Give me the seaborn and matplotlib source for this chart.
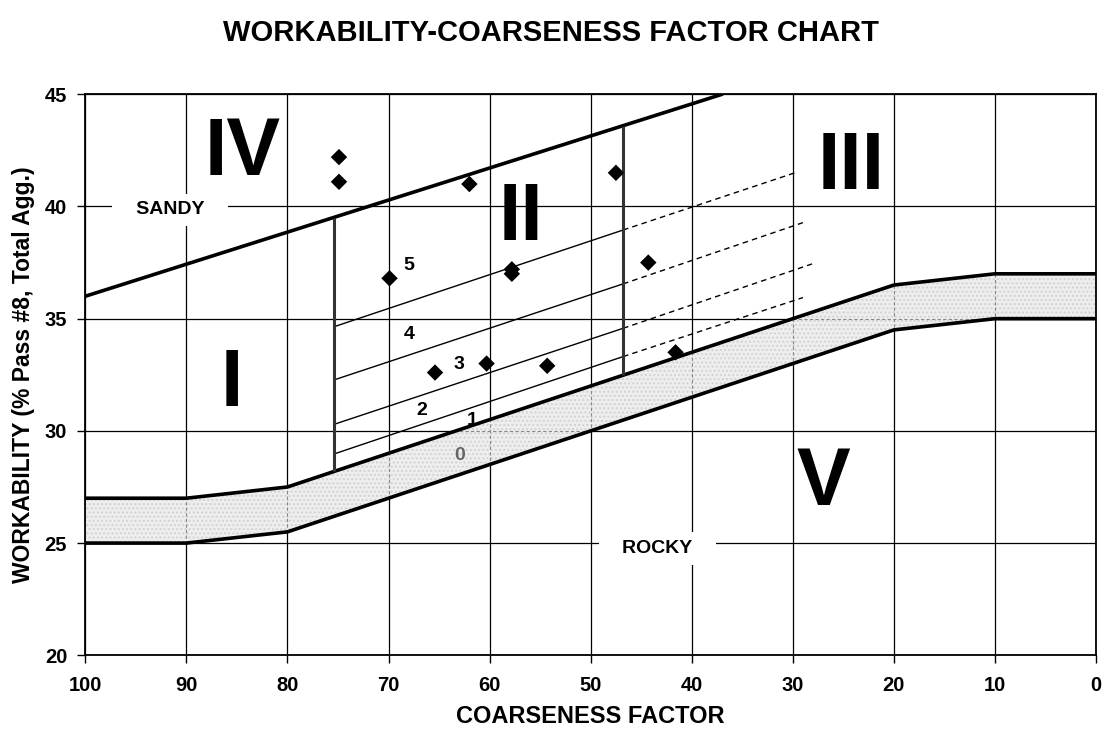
import matplotlib
matplotlib.use("Agg")
import matplotlib.pyplot as plt
import seaborn as sns
import numpy as np
import pandas as pd

# ---------------- data ----------------
title = "WORKABILITY-COARSENESS FACTOR CHART"
x_label = "COARSENESS FACTOR"
y_label = "WORKABILITY (% Pass #8, Total Agg.)"

x_ticks = [100, 90, 80, 70, 60, 50, 40, 30, 20, 10, 0]
y_ticks = [20, 25, 30, 35, 40, 45]

# trend band (zone V boundary)
band_cf = [100, 90, 80, 20, 10, 0]
band_upper = [27.0, 27.0, 27.5, 36.5, 37.0, 37.0]
band_lower = [25.0, 25.0, 25.5, 34.5, 35.0, 35.0]

# sandy boundary line
sandy_cf = [100, 37]
sandy_wk = [36.0, 45.0]

# zone II vertical boundaries
zone_cf = [75.4, 46.8]
zone_bottom = [28.2, 32.5]
zone_top = [39.5, 43.6]

# zone II sub-band lines (solid inside zone II, dashed beyond)
sub_left_wk = [28.97, 30.29, 32.27, 34.64]
sub_right_wk = [33.31, 34.57, 36.55, 38.95]
sub_end_cf = [29.0, 28.1, 29.0, 29.8]
sub_end_wk = [35.94, 37.44, 39.28, 41.50]

# sub-band labels
sub_labels = ["0", "1", "2", "3", "4", "5"]
sub_label_cf = [63.0, 61.7, 66.7, 63.0, 68.0, 68.0]
sub_label_wk = [28.7, 30.26, 30.71, 32.76, 34.08, 37.17]

# zone roman numerals
zones = ["I", "II", "III", "IV", "V"]
zone_label_cf = [85.5, 56.9, 24.2, 84.4, 27.0]
zone_label_wk = [31.1, 38.5, 40.8, 41.4, 26.7]

# measured mixes
mix_cf = [74.9, 74.9, 62.0, 69.9, 57.8, 57.8, 65.4, 60.3, 54.3, 47.5, 44.3, 41.6]
mix_wk = [42.2, 41.1, 41.0, 36.8, 37.2, 37.0, 32.6, 33.0, 32.9, 41.5, 37.5, 33.5]

# region labels
region_text = ["SANDY", "ROCKY"]
region_cf = [91.6, 43.4]
region_wk = [39.85, 24.75]

# ---------------- style ----------------
sns.set_style("white")
plt.rcParams["font.family"] = ["Liberation Sans", "DejaVu Sans"]
plt.rcParams["font.weight"] = "bold"
plt.rcParams["text.color"] = "black"
plt.rcParams["axes.labelcolor"] = "black"
plt.rcParams["xtick.color"] = "black"
plt.rcParams["ytick.color"] = "black"

fig = plt.figure(figsize=(11.02, 7.32), dpi=100)
ax = fig.add_axes([0.0774, 0.1048, 0.9946 - 0.0774, 0.8712 - 0.1048])

ax.set_xlim(100, 0)
ax.set_ylim(20, 45)
ax.set_xticks(x_ticks)
ax.set_yticks(y_ticks)
ax.set_axisbelow(True)
ax.grid(True, color="black", linewidth=0.9)

for sp in ax.spines.values():
    sp.set_color("black")
    sp.set_linewidth(1.3)
ax.tick_params(axis="both", direction="out", length=6, width=1, color="black",
               labelcolor="black", labelsize=14.5)
ax.tick_params(axis="x", pad=9, bottom=True)
ax.tick_params(axis="y", pad=7, left=True)
for lab in ax.get_xticklabels() + ax.get_yticklabels():
    lab.set_fontweight("bold")

# band fill
band_df = pd.DataFrame({"cf": band_cf, "upper": band_upper, "lower": band_lower})
poly = ax.fill_between(band_df["cf"], band_df["lower"], band_df["upper"],
                       facecolor="#eeeeee", edgecolor="#d2d2d2", hatch="....",
                       linewidth=0, zorder=1)
# dashed grid inside band
clip_path = poly.get_paths()[0]
vg = ax.vlines(x_ticks, 20, 45, colors="#888888", linewidth=0.8,
               linestyles=(0, (3, 2)), zorder=1.1)
vg.set_clip_path(clip_path, ax.transData)
hg = ax.hlines(y_ticks, 0, 100, colors="#888888", linewidth=0.8,
               linestyles=(0, (3, 2)), zorder=1.1)
hg.set_clip_path(clip_path, ax.transData)

sns.lineplot(data=band_df, x="cf", y="upper", ax=ax, color="black",
             linewidth=2.6, sort=False, estimator=None, zorder=3)
sns.lineplot(data=band_df, x="cf", y="lower", ax=ax, color="black",
             linewidth=2.6, sort=False, estimator=None, zorder=3)

# sandy line
sns.lineplot(x=sandy_cf, y=sandy_wk, ax=ax, color="black", linewidth=2.6,
             sort=False, estimator=None, zorder=3)

# zone II verticals
ax.vlines(zone_cf, zone_bottom, zone_top, colors="#333333", linewidth=2.2, zorder=3)

# sub-band lines
for i in range(len(sub_left_wk)):
    ax.plot([zone_cf[0], zone_cf[1]], [sub_left_wk[i], sub_right_wk[i]],
            color="black", linewidth=1.0, zorder=2.5)
    ax.plot([zone_cf[1], sub_end_cf[i]], [sub_right_wk[i], sub_end_wk[i]],
            color="black", linewidth=1.0, linestyle=(0, (4, 3)), zorder=2.5)

# sub-band labels
for t, x, y in zip(sub_labels, sub_label_cf, sub_label_wk):
    ax.text(x, y, t, fontsize=14, fontweight="bold", ha="center", va="baseline",
            color="#666666" if t == "0" else "black", zorder=4)

# zone numerals
for t, x, y in zip(zones, zone_label_cf, zone_label_wk):
    ax.text(x, y, t, fontsize=58, fontweight="bold", ha="center", va="baseline",
            color="black", zorder=4)

# region labels with white boxes
for t, x, y in zip(region_text, region_cf, region_wk):
    ax.text(x, y, "   " + t + "   ", fontsize=14, fontweight="bold", ha="center",
            va="center", color="black", zorder=4,
            bbox=dict(boxstyle="square,pad=0.4", facecolor="white", edgecolor="none"))

# data points
mix_df = pd.DataFrame({"cf": mix_cf, "wk": mix_wk})
sns.scatterplot(data=mix_df, x="cf", y="wk", ax=ax, marker="D", s=70,
                color="black", edgecolor="none", zorder=5, legend=False)

ax.set_xlabel(x_label, fontsize=17, fontweight="bold", labelpad=7)
ax.set_ylabel(y_label, fontsize=16.5, fontweight="bold", labelpad=7)
fig.suptitle(title, fontsize=21, fontweight="bold", y=0.955, va="center")

fig.savefig("out.png", dpi=100)
